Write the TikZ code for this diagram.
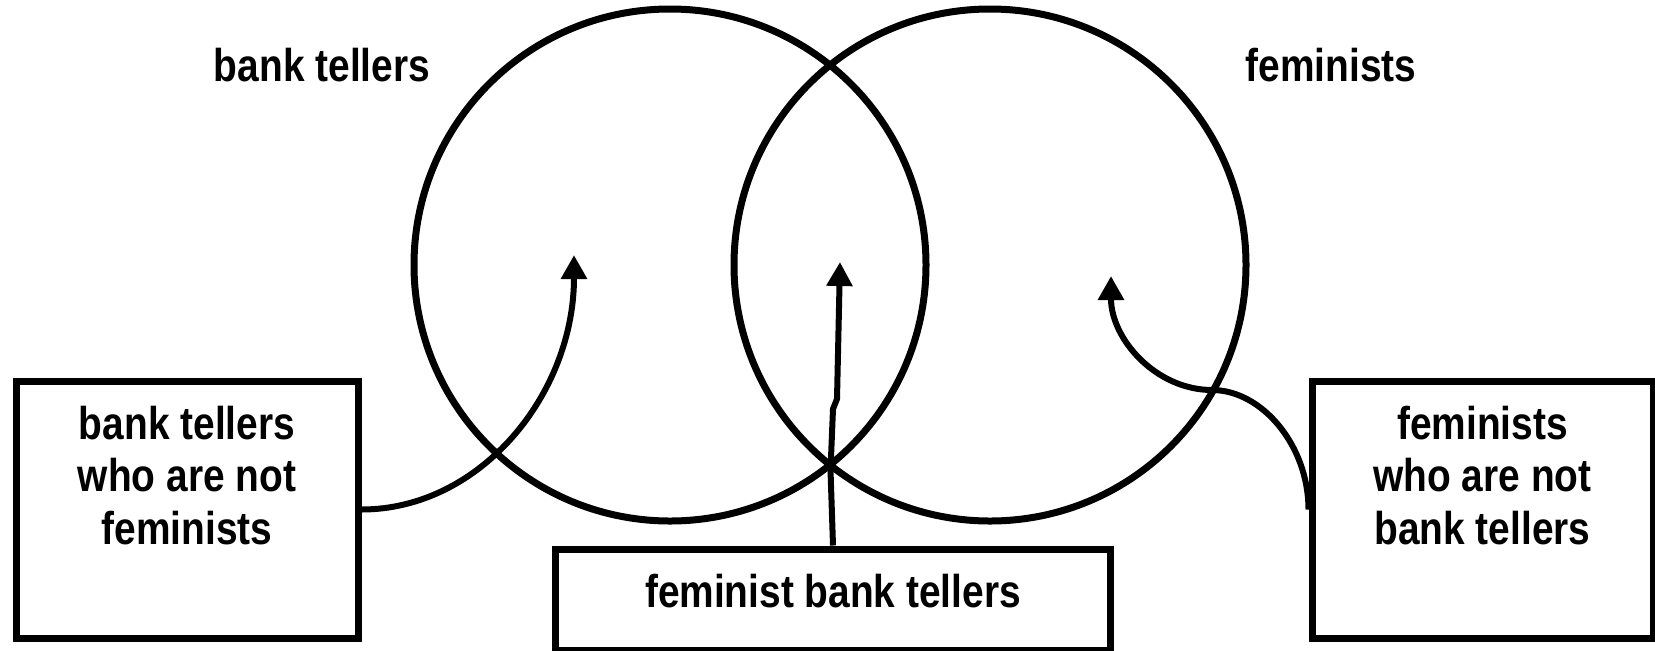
\documentclass[tikz,border=0pt]{standalone}
\usepackage{fontspec}
\setmainfont{Liberation Sans}[FakeStretch=0.845]
\usetikzlibrary{arrows.meta}
\newcommand\boxlines[3]{\parbox[c][#1][t]{#2}{\centering\vspace*{12.4pt}#3\par}}
\begin{document}
\begin{tikzpicture}[x=0.5pt,y=-0.5pt,
  every node/.style={font=\bfseries\fontsize{23}{26.25}\selectfont},
  ring/.style={draw, circle, line width=3.5pt, inner sep=0pt, minimum size=256pt},
  tagbox/.style={draw, rectangle, line width=3.5pt, inner sep=0pt},
  pointer/.style={line width=3pt, -{Triangle[length=12pt,width=12.5pt]}}]
\useasboundingbox (0,0) rectangle (1655,650);
% circles
\node[ring] (L) at (670,265) {};
\node[ring] (R) at (990,265) {};
% set labels
\node[anchor=base] (tl) at (322,81.7) {bank tellers};
\node[anchor=base] (tr) at (1331,81.7) {feminists};
% boxes
\node[tagbox, anchor=north west] (lb) at (12.5,377.5)
  {\boxlines{128.5pt}{171pt}{bank tellers\\who are not\\feminists}};
\node[tagbox, anchor=north west] (rb) at (1308.5,377.5)
  {\boxlines{128.5pt}{170.5pt}{feminists\\who are not\\bank tellers}};
\node[tagbox, anchor=north west] (cb) at (552,545.5)
  {\boxlines{50.5pt}{277.5pt}{feminist bank tellers}};
% arrow targets
\coordinate (la) at (574,255);
\coordinate (ca) at (840,262);
\coordinate (ra) at (1111,276);
% connectors
\draw[pointer] (lb.east) .. controls +(119,0) and (574,394) .. (la);
\draw[pointer] (cb.north) -- (830.5,470) -- (833,409) -- (837,399) -- (ca);
\draw[pointer] (rb.west) .. controls +(0,-64) and (1262,390) .. (1212,390)
  .. controls (1156,390) and (1111,339) .. (ra);
\end{tikzpicture}
\end{document}
